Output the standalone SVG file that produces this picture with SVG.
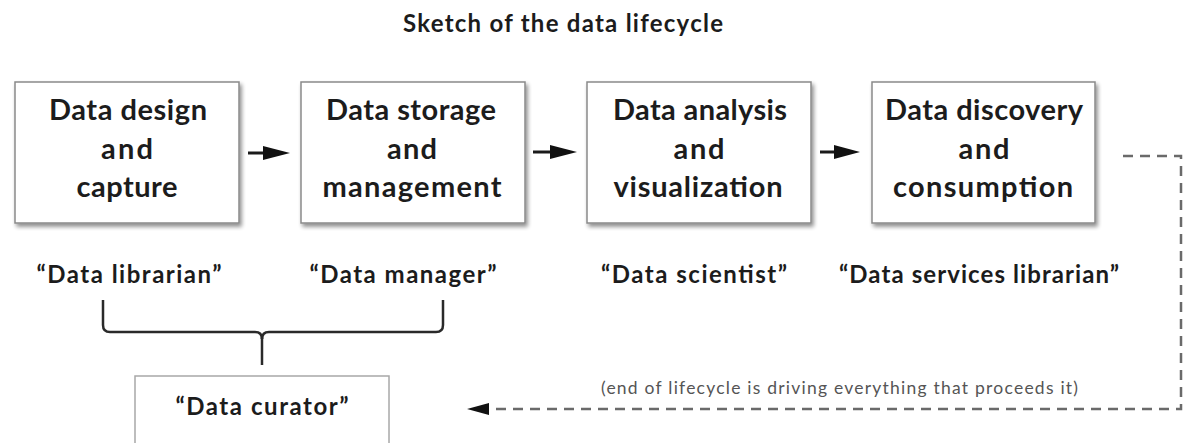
<svg xmlns="http://www.w3.org/2000/svg" width="1186" height="443" viewBox="0 0 1186 443">
  <style>
    .txt { font-family: Lato, "Liberation Sans", sans-serif; fill: #1c1c1c; }
    .title { font-size: 24px; font-weight: bold; }
    .step { font-size: 29px; font-weight: bold; text-anchor: middle; }
    .role { font-size: 24px; font-weight: bold; text-anchor: middle; }
    .note { font-size: 17.5px; fill: #555; }
    .box { fill: #ffffff; stroke: #8a8a8a; stroke-width: 1.5; }
    .plain { fill: #ffffff; stroke: #a8a8a8; stroke-width: 1.5; }
    .flow { stroke: #1a1a1a; stroke-width: 3; fill: none; }
    .head { fill: #111; }
    .dash { stroke: #6a6a6a; stroke-width: 2.5; fill: none; stroke-dasharray: 10 7; }
    .brace { stroke: #2a2a2a; stroke-width: 2.5; fill: none; }
  </style>
  <defs>
    <filter id="shadow" x="-10%" y="-10%" width="125%" height="130%">
      <feGaussianBlur in="SourceAlpha" stdDeviation="2"/>
      <feOffset dx="2" dy="3" result="off"/>
      <feComponentTransfer><feFuncA type="linear" slope="0.45"/></feComponentTransfer>
      <feMerge><feMergeNode/><feMergeNode in="SourceGraphic"/></feMerge>
    </filter>
  </defs>

  <rect width="1186" height="443" fill="#ffffff"/>

  <text class="txt title" x="403" y="32" textLength="320">Sketch of the data lifecycle</text>

  <!-- lifecycle stages -->
  <g id="design">
    <rect class="box" x="15" y="82" width="224" height="141" filter="url(#shadow)"/>
    <text class="txt step" x="128" y="120" textLength="158">Data design</text>
    <text class="txt step" x="127" y="159" textLength="52">and</text>
    <text class="txt step" x="127" y="197" textLength="101">capture</text>
  </g>
  <g id="storage">
    <rect class="box" x="301" y="82" width="224" height="141" filter="url(#shadow)"/>
    <text class="txt step" x="411" y="120" textLength="170">Data storage</text>
    <text class="txt step" x="412" y="159" textLength="50">and</text>
    <text class="txt step" x="412" y="197" textLength="179">management</text>
  </g>
  <g id="analysis">
    <rect class="box" x="587" y="82" width="224" height="141" filter="url(#shadow)"/>
    <text class="txt step" x="700" y="120" textLength="174">Data analysis</text>
    <text class="txt step" x="699" y="159" textLength="51">and</text>
    <text class="txt step" x="698" y="197" textLength="169">visualization</text>
  </g>
  <g id="discovery">
    <rect class="box" x="872" y="82" width="223" height="141" filter="url(#shadow)"/>
    <text class="txt step" x="984" y="120" textLength="198">Data discovery</text>
    <text class="txt step" x="984" y="159" textLength="51">and</text>
    <text class="txt step" x="983" y="197" textLength="180">consumption</text>
  </g>

  <!-- roles -->
  <g id="role-librarian">
    <text class="txt role" x="129" y="283" textLength="185">“Data librarian”</text>
  </g>
  <g id="role-manager">
    <text class="txt role" x="403" y="283" textLength="187">“Data manager”</text>
  </g>
  <g id="role-scientist">
    <text class="txt role" x="694" y="283" textLength="186">“Data scientist”</text>
  </g>
  <g id="role-services">
    <text class="txt role" x="979" y="283" textLength="280">“Data services librarian”</text>
  </g>

  <g id="curator">
    <rect class="plain" x="135" y="376" width="254" height="72"/>
    <text class="txt role" x="262" y="415" textLength="173">“Data curator”</text>
  </g>

  <g id="note">
    <text class="txt note" x="601" y="394" textLength="477">(end of lifecycle is driving everything that proceeds it)</text>
  </g>

  <!-- connectors -->
  <g id="connectors">
    <line class="flow" x1="248" y1="153" x2="265" y2="153"/>
    <polygon class="head" points="263,146 290,153 263,160"/>
    <line class="flow" x1="533" y1="152" x2="552" y2="152"/>
    <polygon class="head" points="550,145 577,152 550,159"/>
    <line class="flow" x1="820" y1="152" x2="836" y2="152"/>
    <polygon class="head" points="834,145 860,152 834,159"/>

    <path class="dash" d="M1123,156 H1181 V409 H480"/>
    <polygon class="head" points="467,409 489,403 489,415"/>

    <path class="brace" d="M103,300 V325 Q103,332 110,332 H255 Q262,332 262,339"/>
    <path class="brace" d="M443,300 V325 Q443,332 436,332 H269 Q262,332 262,339"/>
    <line class="brace" x1="262" y1="336" x2="262" y2="365" stroke-width="3.5"/>
  </g>
</svg>
